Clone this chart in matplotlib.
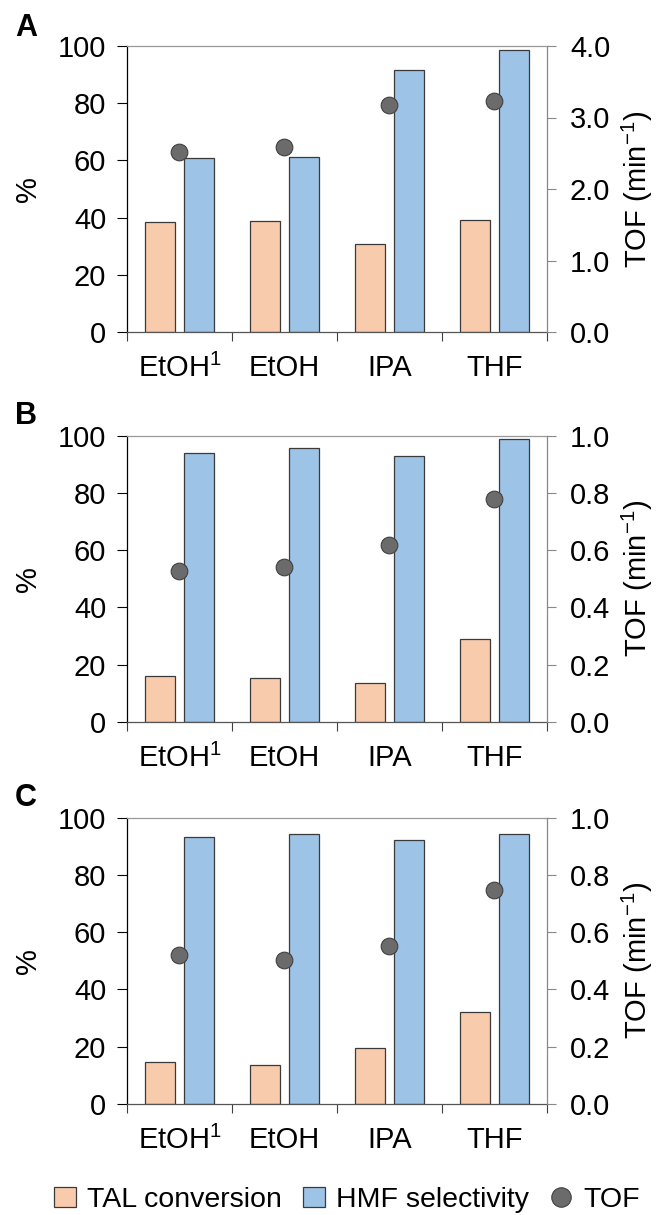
import numpy as np
import matplotlib
matplotlib.use("Agg")
import matplotlib.pyplot as plt
from matplotlib.lines import Line2D
from matplotlib.patches import Patch

plt.rcParams.update({
    'font.family': ['Liberation Sans', 'DejaVu Sans'],
    'font.size': 21,
    'mathtext.fontset': 'custom',
    'mathtext.rm': 'Liberation Sans',
    'mathtext.it': 'Liberation Sans:italic',
    'mathtext.bf': 'Liberation Sans:bold',
})

# solvents
solvents = ['EtOH$^{1}$', 'EtOH', 'IPA', 'THF']

# panel A
tal_a = [38.4, 38.9, 30.7, 39.2]
hmf_a = [60.7, 61.1, 91.5, 98.7]
tof_a = [2.52, 2.59, 3.18, 3.23]

# panel B
tal_b = [16.1, 15.2, 13.4, 29.1]
hmf_b = [94.2, 95.9, 93.1, 98.9]
tof_b = [0.529, 0.543, 0.618, 0.778]

# panel C
tal_c = [14.6, 13.6, 19.4, 32.0]
hmf_c = [93.1, 94.2, 92.3, 94.2]
tof_c = [0.522, 0.502, 0.552, 0.747]

panels = [
    ('A', tal_a, hmf_a, tof_a, 4.0, 1.0),
    ('B', tal_b, hmf_b, tof_b, 1.0, 0.2),
    ('C', tal_c, hmf_c, tof_c, 1.0, 0.2),
]

TAL_COLOR = '#F8CBAD'
HMF_COLOR = '#9DC3E6'
TOF_COLOR = '#6B6B6B'
EDGE = '#3A3A3A'

W, H = 657, 1215
fig = plt.figure(figsize=(W / 100, H / 100), dpi=100)

# axes rectangles in pixels: (top of 100 line, zero line)
rects = [(46, 332), (436, 721.7), (817.7, 1104)]
letter_y = [13, 401, 783]
left_px, right_px = 127, 547

x = np.arange(len(solvents))
for (label, tal, hmf, tof, tmax, tstep), (top, zero), ly in zip(panels, rects, letter_y):
    ax = fig.add_axes([left_px / W, (H - zero) / H,
                       (right_px - left_px) / W, (zero - top) / H])
    ax.bar(x - 0.186, tal, width=0.28, color=TAL_COLOR, edgecolor=EDGE,
           linewidth=0.9, zorder=2)
    ax.bar(x + 0.186, hmf, width=0.28, color=HMF_COLOR, edgecolor=EDGE,
           linewidth=0.9, zorder=2)
    ax.set_xlim(-0.5, len(solvents) - 0.5)
    ax.set_ylim(0, 100)
    ax.set_yticks(np.arange(0, 101, 20))
    ax.set_xticks(x)
    ax.set_xticklabels(solvents)
    ax.set_xticks(np.arange(-0.5, len(solvents), 1.0), minor=True)
    ax.tick_params(axis='x', which='major', length=0, pad=16)
    ax.tick_params(axis='x', which='minor', length=6.5, width=0.8,
                   color='#404040', direction='out')
    ax.tick_params(axis='y', length=7, width=0.8, pad=8, direction='out')

    ax.spines['left'].set_color('black')
    ax.spines['bottom'].set_color('#555555')
    ax.spines['top'].set_color('#999999')
    ax.spines['right'].set_visible(False)
    for s in ax.spines.values():
        s.set_linewidth(0.9)

    ax.text(-0.235, 0.5, '%', transform=ax.transAxes, rotation=90,
            ha='center', va='center')

    ax2 = ax.twinx()
    ax2.plot(x, tof, 'o', markersize=12, markerfacecolor=TOF_COLOR,
             markeredgecolor='#404040', markeredgewidth=0.8, zorder=3)
    ax2.set_ylim(0, tmax)
    ax2.set_yticks(np.arange(0, tmax + tstep / 2, tstep))
    ax2.yaxis.set_major_formatter(matplotlib.ticker.FormatStrFormatter('%.1f'))
    ax2.tick_params(axis='y', length=6.5, width=0.8, pad=10, color='#888888',
                    direction='out')
    for s in ['left', 'top', 'bottom']:
        ax2.spines[s].set_visible(False)
    ax2.spines['right'].set_color('#888888')
    ax2.spines['right'].set_linewidth(0.9)
    ax2.text(1.216, 0.5, 'TOF (min$^{-1}$)', transform=ax.transAxes,
             rotation=90, ha='center', va='center')

    fig.text(15 / W, 1 - ly / H, label, fontsize=22, fontweight='bold',
             ha='left', va='top')

handles = [
    Patch(facecolor=TAL_COLOR, edgecolor=EDGE, linewidth=0.9),
    Patch(facecolor=HMF_COLOR, edgecolor=EDGE, linewidth=0.9),
    Line2D([], [], marker='o', linestyle='none', markersize=14,
           markerfacecolor=TOF_COLOR, markeredgecolor='#404040',
           markeredgewidth=0.8),
]
fig.legend(handles, ['TAL conversion', 'HMF selectivity', 'TOF'],
           loc='center', bbox_to_anchor=(347 / W, 1 - 1200 / H), ncol=3,
           frameon=False, handlelength=0.75, handleheight=0.7,
           handletextpad=0.4, columnspacing=0.75, borderpad=0, fontsize=20.5)

fig.savefig('out.png', dpi=100)
